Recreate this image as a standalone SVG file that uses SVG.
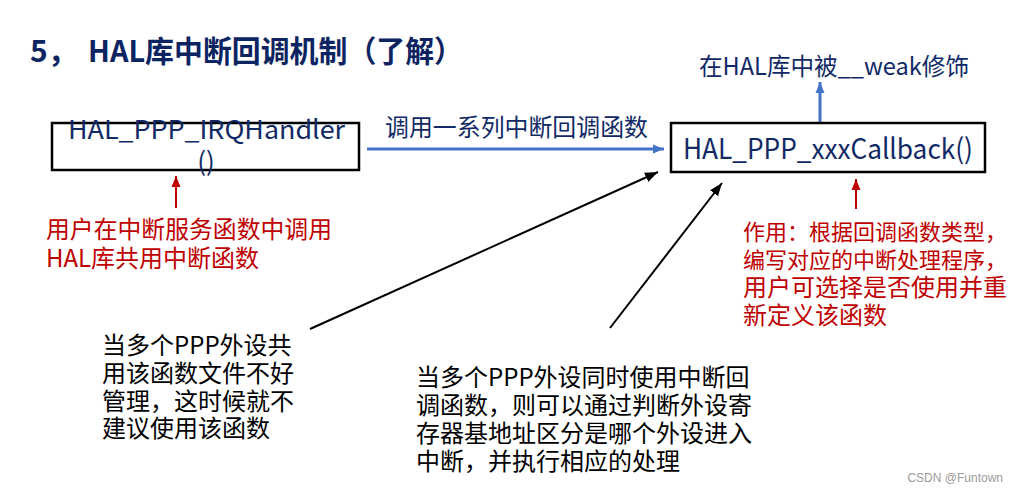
<svg xmlns="http://www.w3.org/2000/svg" width="1013" height="491" viewBox="0 0 1013 491">
<style>
  text { font-family: "Noto Sans CJK SC", "Noto Sans", sans-serif; }
  .title { font-size: 30px; font-weight: bold; fill: #0c2461; }
  .navy { font-size: 24px; fill: #112a66; }
  .code { font-size: 26px; fill: #112a66; }
  .red { font-size: 24px; fill: #c00000; }
  .red22 { font-size: 22px; fill: #c00000; }
  .blk { font-size: 24px; fill: #000000; }
  .box { fill: #ffffff; stroke: #000000; stroke-width: 2.5; }
  .blue { stroke: #4472c4; stroke-width: 3; fill: none; }
  .redl { stroke: #c00000; stroke-width: 2; fill: none; }
  .blkl { stroke: #000000; stroke-width: 2; fill: none; }
  .wm { font-family: "Liberation Sans", Arial, sans-serif; font-size: 12px; fill: #9a9a9a; }
</style>
<defs>
  <marker id="ab" markerUnits="userSpaceOnUse" markerWidth="12" markerHeight="10" refX="11" refY="5" orient="auto">
    <path d="M0,0.5 L11,5 L0,9.5 z" fill="#4472c4"/>
  </marker>
  <marker id="ar" markerUnits="userSpaceOnUse" markerWidth="12" markerHeight="10" refX="11" refY="5" orient="auto">
    <path d="M0,0.5 L11,5 L0,9.5 z" fill="#c00000"/>
  </marker>
  <marker id="ak" markerUnits="userSpaceOnUse" markerWidth="14" markerHeight="12" refX="13" refY="6" orient="auto">
    <path d="M0,1 L13,6 L0,11 z" fill="#000000"/>
  </marker>
</defs>
<rect width="1013" height="491" fill="#ffffff"/>

<g id="title">
  <text class="title" y="62"><tspan x="30">5，</tspan><tspan x="88" textLength="375" lengthAdjust="spacingAndGlyphs">HAL库中断回调机制（了解）</tspan></text>
</g>

<g id="connectors">
  <line class="blue" x1="367" y1="149" x2="664" y2="149" marker-end="url(#ab)"/>
  <line class="blue" x1="820" y1="123" x2="820" y2="82" marker-end="url(#ab)"/>
  <line class="redl" x1="176" y1="208" x2="176" y2="176" marker-end="url(#ar)"/>
  <line class="redl" x1="856" y1="209" x2="856" y2="179" marker-end="url(#ar)"/>
  <line class="blkl" x1="310" y1="329" x2="658" y2="172" marker-end="url(#ak)"/>
  <line class="blkl" x1="610" y1="328" x2="722" y2="183" marker-end="url(#ak)"/>
</g>

<g id="irq-handler">
  <rect class="box" x="52" y="123" width="307" height="47"/>
  <text class="code" x="68" y="139" textLength="277" lengthAdjust="spacingAndGlyphs">HAL_PPP_IRQHandler</text>
  <text class="code" x="206" y="171" text-anchor="middle">()</text>
</g>

<g id="callback">
  <rect class="box" x="671" y="123" width="314" height="49"/>
  <text class="code" x="683" y="159" style="font-size:28px" textLength="290" lengthAdjust="spacingAndGlyphs">HAL_PPP_xxxCallback()</text>
</g>

<g id="call-label">
  <text class="navy" x="385" y="136" textLength="263" lengthAdjust="spacingAndGlyphs">调用一系列中断回调函数</text>
</g>

<g id="weak-label">
  <text class="navy" x="699" y="75" textLength="270" lengthAdjust="spacingAndGlyphs">在HAL库中被__weak修饰</text>
</g>

<g id="user-note">
  <text class="red" x="46" y="238" textLength="286" lengthAdjust="spacingAndGlyphs">用户在中断服务函数中调用</text>
  <text class="red" x="46" y="267">HAL库共用中断函数</text>
</g>

<g id="role-note">
  <text class="red22" x="743" y="240">作用：根据回调函数类型，</text>
  <text class="red22" x="743" y="268">编写对应的中断处理程序，</text>
  <text class="red" x="743" y="296">用户可选择是否使用并重</text>
  <text class="red" x="743" y="324">新定义该函数</text>
</g>

<g id="shared-note">
  <text class="blk" x="102" y="354">当多个PPP外设共</text>
  <text class="blk" x="102" y="382">用该函数文件不好</text>
  <text class="blk" x="102" y="410">管理，这时候就不</text>
  <text class="blk" x="102" y="437">建议使用该函数</text>
</g>

<g id="multi-note">
  <text class="blk" x="416" y="386">当多个PPP外设同时使用中断回</text>
  <text class="blk" x="416" y="414">调函数，则可以通过判断外设寄</text>
  <text class="blk" x="416" y="442">存器基地址区分是哪个外设进入</text>
  <text class="blk" x="416" y="470">中断，并执行相应的处理</text>
</g>

<g id="watermark">
  <text class="wm" x="1003" y="482" text-anchor="end">CSDN @Funtown</text>
</g>
</svg>
